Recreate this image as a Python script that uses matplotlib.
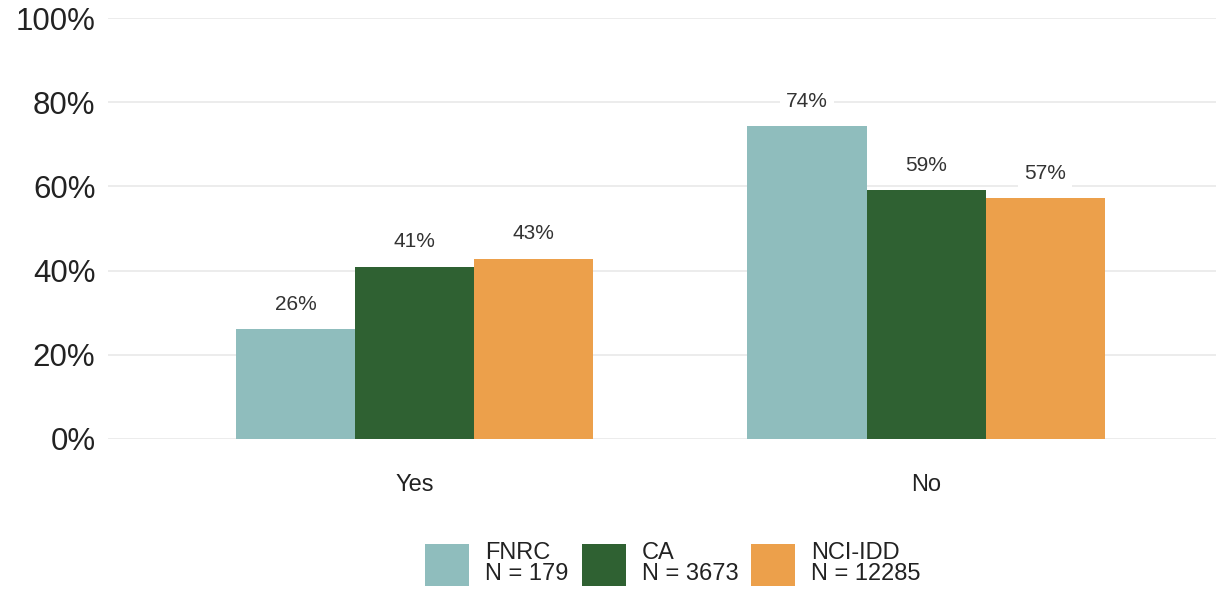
import matplotlib
matplotlib.use("Agg")
import matplotlib.pyplot as plt
import numpy as np

categories = ["Yes", "No"]
series_names = ["FNRC\nN = 179", "CA\nN = 3673", "NCI-IDD\nN = 12285"]
fnrc = [0.261, 0.743]
ca = [0.409, 0.591]
nci = [0.428, 0.572]
labels_fnrc = ["26%", "74%"]
labels_ca = ["41%", "59%"]
labels_nci = ["43%", "57%"]
colors = ["#8FBDBD", "#2F6132", "#ECA04B"]
yticks = [0, 0.2, 0.4, 0.6, 0.8, 1.0]
ytick_labels = ["0%", "20%", "40%", "60%", "80%", "100%"]

plt.rcParams['font.family'] = ['Liberation Sans', 'DejaVu Sans']

fig = plt.figure(figsize=(12.16, 5.92), dpi=100)
ax = fig.add_axes([108/1216, 1-439/592, (1216-108)/1216, (439-18)/592])

x = np.arange(len(categories))
w = 0.233
data = [fnrc, ca, nci]
labs = [labels_fnrc, labels_ca, labels_nci]
for i, (vals, lab) in enumerate(zip(data, labs)):
    pos = x + (i - 1) * w
    ax.bar(pos, vals, width=w, color=colors[i], label=series_names[i], zorder=2)
    for p, v, t in zip(pos, vals, lab):
        ax.annotate(t, (p, v), xytext=(0, 18), textcoords="offset points",
                    ha="center", va="center", fontsize=15, color="#333333",
                    bbox=dict(boxstyle="square,pad=0.3", fc="white", ec="none"),
                    zorder=3, annotation_clip=False)

ax.set_xlim(-0.6, 1.567)
ax.set_ylim(0, 1.0)
ax.set_yticks(yticks)
ax.set_yticklabels(ytick_labels, fontsize=22.5, color="#222222")
ax.set_xticks(x)
ax.set_xticklabels(categories, fontsize=17, color="#222222")
ax.tick_params(axis="both", length=0)
ax.tick_params(axis="x", pad=25.5)
ax.tick_params(axis="y", pad=9)
ax.grid(axis="y", color="#EBEBEB", linewidth=1.3, zorder=0)
ax.set_axisbelow(True)
for s in ax.spines.values():
    s.set_visible(False)

leg = fig.legend(loc="center", bbox_to_anchor=(673/1216, 1-564/592), ncol=3,
                 frameon=False, fontsize=17, handlelength=1.86, handleheight=2.36,
                 handletextpad=0.68, columnspacing=0.55, labelspacing=0.2)
for t in leg.get_texts():
    t.set_color("#222222")
    t.set_linespacing(0.93)

fig.savefig("out.png", dpi=100)
